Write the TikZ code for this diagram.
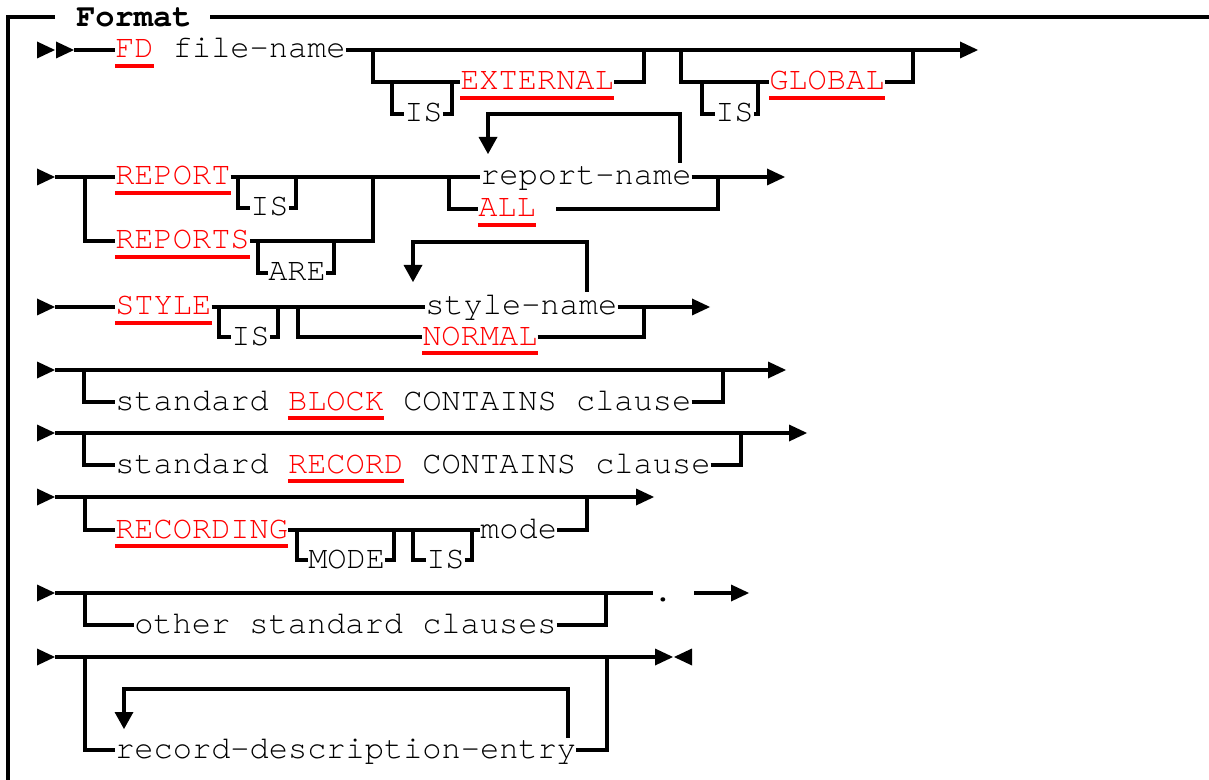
\documentclass[tikz,border=0pt]{standalone}
\usepackage{fontspec}
\newfontfamily\mono[Ligatures={NoCommon}]{TeX Gyre Cursor}
\usetikzlibrary{calc}

% Syntax-diagram helpers: right-pointing mark, left-pointing mark, repeat-arrow mark
\newcommand\rmark[2]{\fill (#1,#2-8.5) -- (#1+18,#2) -- (#1,#2+8.5) -- cycle;}
\newcommand\lmark[2]{\fill (#1+18,#2-8.5) -- (#1,#2) -- (#1+18,#2+8.5) -- cycle;}
\newcommand\dmark[2]{\fill (#1-9.5,#2) -- (#1+9.5,#2) -- (#1,#2+17) -- cycle;}
\newcommand\under[1]{\draw[ul] ([yshift=-12pt]#1.west) -- ([yshift=-12pt]#1.east);}

\tikzset{
  rail/.style={line width=2.3pt},
  txt/.style={inner sep=0pt, text height=14pt, text depth=2pt, anchor=west,
              font=\mono\fontsize{24}{28}\selectfont},
  kw/.style={txt, text=red},
  ul/.style={red, line width=2.3pt},
}

\begin{document}
\begin{tikzpicture}[x=0.75pt,y=-0.75pt]
\useasboundingbox (0,0) rectangle (1209,780);

% ---- frame with title ----
\node[txt, font=\mono\fontsize{24}{28}\selectfont\bfseries] (fmt) at (76,19) {Format};
\draw[rail] (55,17) -- (8,17) -- (8,790);
\draw[rail] (210,17) -- (1215,17);

% ---- FD file-name [IS EXTERNAL] [IS GLOBAL] ----
\rmark{37}{50}\rmark{56}{50}
\node[kw] (fd) at (115,50) {FD}; \under{fd}
\node[txt] (fname) at (172.6,50) {file-name};
\draw[rail] (74,50) -- (fd.west);
\draw[rail] (fname.east) -- (960,50);
\rmark{960}{50}
\node[kw] (ext) at (460,82) {EXTERNAL}; \under{ext}
\node[txt] (isa) at (404,114) {IS};
\draw[rail] (373,50) |- (ext.west);
\draw[rail] (392,82) |- (isa.west);
\draw[rail] (isa.east) -| (452,82);
\draw[rail] (ext.east) -| (644,50);
\node[kw] (glob) at (769,82) {GLOBAL}; \under{glob}
\node[txt] (isb) at (715,114) {IS};
\draw[rail] (681,50) |- (glob.west);
\draw[rail] (702,82) |- (isb.west);
\draw[rail] (isb.east) -| (758,82);
\draw[rail] (glob.east) -| (913,50);

% ---- REPORT IS / REPORTS ARE  report-name... / ALL ----
\rmark{37}{177}
\node[kw] (rep) at (115,177) {REPORT}; \under{rep}
\node[kw] (reps) at (115,241) {REPORTS}; \under{reps}
\node[txt] (isc) at (250,208) {IS};
\node[txt] (are) at (268,273) {ARE};
\node[txt] (rname) at (480,177) {report-name};
\node[kw] (all) at (478,209) {ALL}; \under{all}
\draw[rail] (55,177) -- (rep.west);
\draw[rail] (85,177) |- (reps.west);
\draw[rail] (rep.east) -- (rname.west);
\draw[rail] (238,177) |- (isc.west);
\draw[rail] (isc.east) -| (296,177);
\draw[rail] (reps.east) -| (373,177);
\draw[rail] (258,241) |- (are.west);
\draw[rail] (are.east) -| (334,241);
\draw[rail] (449,177) |- (all.west);
\draw[rail] ([xshift=15pt]all.east) -| (718,177);
\draw[rail] (rname.east) -- (767,177);
\rmark{767}{177}
\draw[rail] (680,163) |- (488,114) -- (488,137);
\dmark{488}{137}

% ---- STYLE IS style-name... / NORMAL ----
\rmark{37}{307}
\node[kw] (sty) at (115,307) {STYLE}; \under{sty}
\node[txt] (isd) at (231,337) {IS};
\node[txt] (sname) at (425,307) {style-name};
\node[kw] (norm) at (422,337) {NORMAL}; \under{norm}
\draw[rail] (55,307) -- (sty.west);
\draw[rail] (sty.east) -- (sname.west);
\draw[rail] (219,307) |- (isd.west);
\draw[rail] (isd.east) -| (278,307);
\draw[rail] (298,307) |- (norm.west);
\draw[rail] (norm.east) -| (644,307);
\draw[rail] (sname.east) -- (692,307);
\rmark{692}{307}
\draw[rail] (587,292) |- (413,242) -- (413,265);
\dmark{413}{265}

% ---- standard BLOCK CONTAINS clause ----
\rmark{37}{370}
\draw[rail] (55,370) -- (768,370);
\rmark{768}{370}
\node[txt] (blka) at (115,402) {standard};
\node[kw] (blk) at (115+9*19.2,402) {BLOCK}; \under{blk}
\node[txt] (blkb) at (115+15*19.2,402) {CONTAINS clause};
\draw[rail] (84,370) |- (blka.west);
\draw[rail] (blkb.east) -| (723,370);

% ---- standard RECORD CONTAINS clause ----
\rmark{37}{433}
\draw[rail] (55,433) -- (789,433);
\rmark{789}{433}
\node[txt] (reca) at (115,465) {standard};
\node[kw] (rec) at (115+9*19.2,465) {RECORD}; \under{rec}
\node[txt] (recb) at (115+16*19.2,465) {CONTAINS clause};
\draw[rail] (84,433) |- (reca.west);
\draw[rail] (recb.east) -| (741,433);

% ---- RECORDING MODE IS mode ----
\rmark{37}{497}
\draw[rail] (55,497) -- (636,497);
\rmark{636}{497}
\node[kw] (rcg) at (115,530) {RECORDING}; \under{rcg}
\node[txt] (modekw) at (308,560) {MODE};
\node[txt] (ise) at (426,560) {IS};
\node[txt] (mode) at (480,530) {mode};
\draw[rail] (85,497) |- (rcg.west);
\draw[rail] (rcg.east) -- (mode.west);
\draw[rail] (297,530) |- (modekw.west);
\draw[rail] (modekw.east) -| (394,530);
\draw[rail] (413,530) |- (ise.west);
\draw[rail] (ise.east) -| (472,530);
\draw[rail] (mode.east) -| (587,497);

% ---- other standard clauses . ----
\rmark{37}{593}
\node[txt] (dot) at (653,593) {.};
\draw[rail] (55,593) -- (dot.west);
\draw[rail] ([xshift=16pt]dot.east) -- (731,593);
\rmark{731}{593}
\node[txt] (oth) at (134,625) {other standard clauses};
\draw[rail] (85,593) |- (oth.west);
\draw[rail] (oth.east) -| (606,593);

% ---- record-description-entry (repeatable) ----
\rmark{37}{657}
\draw[rail] (55,657) -- (655,657);
\rmark{655}{657}\lmark{674}{657}
\node[txt] (rde) at (115,750) {record-description-entry};
\draw[rail] (85,657) |- (rde.west);
\draw[rail] (rde.east) -| (607,657);
\draw[rail] (568,738) |- (124,689) -- (124,712);
\dmark{124}{712}
\end{tikzpicture}
\end{document}
